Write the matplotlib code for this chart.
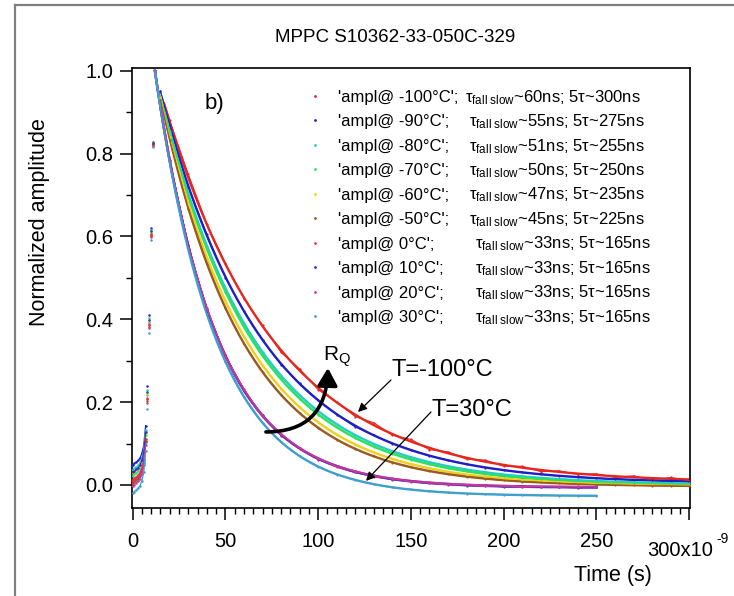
import numpy as np
import matplotlib
matplotlib.use("Agg")
import matplotlib.pyplot as plt
from matplotlib.ticker import MultipleLocator, FixedLocator, FixedFormatter
from matplotlib.patches import FancyArrowPatch
from matplotlib.path import Path

plt.rcParams['font.family'] = ['Liberation Sans', 'DejaVu Sans']
plt.rcParams['mathtext.fontset'] = 'custom'
plt.rcParams['mathtext.rm'] = 'Liberation Sans'
plt.rcParams['mathtext.it'] = 'Liberation Sans:italic'

# ---- data -------------------------------------------------------------
temps = ['-100', '-90', '-80', '-70', '-60', '-50', '0', '10', '20', '30']
tau_ns = [60, 55, 51, 50, 47, 45, 33, 33, 33, 33]
five_tau_ns = [300, 275, 255, 250, 235, 225, 165, 165, 165, 165]
colors = ['#e6261f', '#1f1fc8', '#22cfc4', '#2ee05a', '#f0d01a', '#9a5a22',
          '#e8305c', '#3a2fc0', '#cc3aa8', '#3f9fcf']

# leading edge (ns) and its normalised shape, baseline per temperature
rise_t = [0, 1, 2, 3, 4, 5, 6, 7, 8, 9, 10, 11, 12]
rise_frac = [0, 0.004, 0.008, 0.012, 0.018, 0.03, 0.05, 0.1, 0.2, 0.38, 0.6, 0.82, 1.0]
baseline = [0.008, 0.048, 0.036, 0.022, 0.028, 0.003, 0.012, 0.03, -0.003, -0.02]

# sampled tail of each pulse (ns)
decay_t = [15] + list(range(20, 301, 10))
ampl_m100 = [0.95, 0.88, 0.75, 0.63, 0.535, 0.45, 0.385, 0.32, 0.28, 0.23, 0.20, 0.165, 0.15,
             0.12, 0.11, 0.085, 0.08, 0.062, 0.06, 0.045, 0.045, 0.032, 0.034, 0.025, 0.027,
             0.018, 0.022, 0.012, 0.018, 0.01]
ampl_m90 = [0.95, 0.87, 0.72, 0.605, 0.50, 0.42, 0.35, 0.29, 0.245, 0.205, 0.17, 0.14, 0.12,
            0.10, 0.085, 0.07, 0.06, 0.05, 0.042, 0.036, 0.03, 0.026, 0.021, 0.02, 0.016,
            0.015, 0.012, 0.011, 0.009, 0.008]
ampl_m80 = [0.94, 0.855, 0.703, 0.578, 0.475, 0.39, 0.321, 0.264, 0.217, 0.178, 0.146, 0.12,
            0.099, 0.081, 0.067, 0.055, 0.045, 0.037, 0.03, 0.025, 0.021, 0.017, 0.014, 0.011,
            0.009, 0.008, 0.006, 0.005, 0.004, 0.004]
ampl_m70 = [0.94, 0.85, 0.696, 0.569, 0.466, 0.381, 0.311, 0.255, 0.208, 0.170, 0.139, 0.113,
            0.092, 0.075, 0.061, 0.050, 0.040, 0.033, 0.026, 0.021, 0.017, 0.014, 0.011, 0.008,
            0.007, 0.005, 0.004, 0.003, 0.002, 0.001]
ampl_m60 = [0.935, 0.84, 0.679, 0.548, 0.442, 0.357, 0.288, 0.232, 0.187, 0.151, 0.121, 0.097,
            0.078, 0.063, 0.050, 0.040, 0.032, 0.025, 0.020, 0.015, 0.012, 0.009, 0.007, 0.005,
            0.003, 0.002, 0.001, 0.0, -0.001, -0.001]
ampl_m50 = [0.93, 0.833, 0.666, 0.533, 0.426, 0.341, 0.273, 0.218, 0.173, 0.137, 0.109, 0.087,
            0.069, 0.054, 0.043, 0.033, 0.026, 0.020, 0.015, 0.011, 0.008, 0.006, 0.004, 0.002,
            0.001, 0.0, -0.001, -0.002, -0.002, -0.003]
ampl_0 = [0.91, 0.785, 0.575, 0.427, 0.31, 0.232, 0.165, 0.124, 0.087, 0.065, 0.043, 0.034,
          0.02, 0.016, 0.008, 0.006, 0.001, 0.001, -0.003, -0.002, -0.005, -0.004, -0.006,
          -0.005, -0.006]
ampl_10 = [0.91, 0.782, 0.58, 0.421, 0.313, 0.226, 0.168, 0.119, 0.089, 0.061, 0.046, 0.03,
           0.023, 0.013, 0.01, 0.004, 0.003, -0.002, -0.001, -0.005, -0.003, -0.006, -0.005,
           -0.007, -0.006]
ampl_20 = [0.91, 0.784, 0.577, 0.425, 0.312, 0.229, 0.167, 0.122, 0.089, 0.063, 0.045, 0.032,
           0.022, 0.015, 0.009, 0.005, 0.002, 0.0, -0.002, -0.003, -0.004, -0.004, -0.005,
           -0.005, -0.005]
ampl_30 = [0.91, 0.779, 0.569, 0.413, 0.298, 0.213, 0.150, 0.103, 0.070, 0.044, 0.025, 0.012,
           0.002, -0.006, -0.011, -0.015, -0.018, -0.021, -0.022, -0.024, -0.024, -0.025,
           -0.026, -0.026, -0.026]
tails = [ampl_m100, ampl_m90, ampl_m80, ampl_m70, ampl_m60, ampl_m50,
         ampl_0, ampl_10, ampl_20, ampl_30]

# exponential fit parameters: start/end of fit window (ns), peak time, offset
fit_start = [17, 17, 17, 17, 17, 17, 12, 12, 12, 12]
fit_end = [300, 300, 300, 300, 300, 300, 250, 250, 250, 250]
fit_offset = [0.005, 0.003, 0.0, -0.002, -0.003, -0.004, -0.006, -0.007, -0.006, -0.027]
t_peak = 12

# ---- figure -----------------------------------------------------------
W, H = 734, 596
fig = plt.figure(figsize=(W / 100, H / 100), dpi=100)
ax = fig.add_axes([131.7 / W, 1 - 507.7 / H, (690 - 131.7) / W, (507.7 - 68.3) / H])

# fits
for i in range(len(temps)):
    tf = np.linspace(fit_start[i], fit_end[i], 400)
    c = fit_offset[i]
    yf = (1 - c) * np.exp(-(tf - t_peak) / tau_ns[i]) + c
    ax.plot(tf, yf, color=colors[i], lw=1.7, zorder=2 + (i >= 8) * 0.5)

# measured traces
for i in range(len(temps)):
    ry = [baseline[i] + f * (1 - baseline[i]) for f in rise_frac]
    ax.plot(rise_t[:8], ry[:8], ls='-', lw=0.9, color=colors[i], zorder=3)
    ax.plot(rise_t, ry, ls='none', marker='o', ms=1.8, mec='none', color=colors[i], zorder=3)
    ty = tails[i]
    ax.plot(decay_t[:len(ty)], ty, ls='-', lw=0.8, marker='o', ms=1.6, mec='none',
            color=colors[i], zorder=3)

ax.set_xlim(-0.5, 300.4)
ax.set_ylim(-0.055, 1.006)

for s in ax.spines.values():
    s.set_linewidth(1.2)

ax.xaxis.set_major_locator(FixedLocator([0, 50, 100, 150, 200, 250, 300]))
ax.xaxis.set_major_formatter(FixedFormatter(['0', '50', '100', '150', '200', '250', '']))
ax.xaxis.set_minor_locator(MultipleLocator(5))
ax.yaxis.set_major_locator(MultipleLocator(0.2))
ax.yaxis.set_minor_locator(MultipleLocator(0.1))
ax.yaxis.set_major_formatter(matplotlib.ticker.FormatStrFormatter('%.1f'))
ax.tick_params(which='major', direction='out', length=8.5, width=1.1, labelsize=14.5)
ax.tick_params(which='minor', direction='out', length=4.5, width=1.0)
ax.tick_params(axis='x', which='major', pad=9)
ax.tick_params(axis='y', which='major', pad=5)

def fx(px):
    return px / W

def fy(py):
    return 1 - py / H

fig.text(fx(647), fy(550), '300x10', fontsize=14.5, ha='left', va='center')
fig.text(fx(716), fy(539), '-9', fontsize=10, ha='left', va='center')
fig.text(fx(613), fy(576), 'Time (s)', fontsize=15.5, ha='center', va='center')
fig.text(fx(40), fy(222), 'Normalized amplitude', fontsize=15.5, rotation=90,
         ha='center', va='center')
fig.text(fx(395), fy(38), 'MPPC S10362-33-050C-329', fontsize=13.5, ha='center', va='center')
fig.text(fx(205), fy(104), 'b)', fontsize=16, ha='left', va='center')

# legend rows
tau_x = [465, 469, 469, 469, 469, 469, 475, 475, 475, 475]
for i in range(len(temps)):
    yc = 96 + i * 24.45
    fig.lines.append(plt.Line2D([fx(315)], [fy(yc)], ls='none', marker='o', ms=2,
                                mec='none', color=colors[i], transform=fig.transFigure))
    fig.text(fx(338), fy(yc + 6), "'ampl@ %s°C';" % temps[i], fontsize=12,
             ha='left', va='baseline')
    fig.text(fx(tau_x[i]), fy(yc + 6),
             r"τ$_{\mathrm{fall\ slow}}$~%dns; 5τ~%dns" % (tau_ns[i], five_tau_ns[i]),
             fontsize=12, ha='left', va='baseline')

# annotations
def to_data(px, py):
    return ((px - 132.7) / 1.855, (485 - py) / 414.3)

ax.text(*to_data(392, 370), 'T=-100°C', fontsize=17, ha='left', va='center')
ax.text(*to_data(432, 410), 'T=30°C', fontsize=17, ha='left', va='center')
ax.text(*to_data(323, 357), r'R$_\mathrm{Q}$', fontsize=15, ha='left', va='center')

ax.annotate('', xy=to_data(358, 412), xytext=to_data(391, 380),
            arrowprops=dict(arrowstyle='-|>', lw=0.9, color='black', mutation_scale=13,
                            shrinkA=0, shrinkB=0))
ax.annotate('', xy=to_data(366, 481), xytext=to_data(431, 412),
            arrowprops=dict(arrowstyle='-|>', lw=0.9, color='black', mutation_scale=13,
                            shrinkA=0, shrinkB=0))

p0 = to_data(266, 432)
p1 = to_data(326, 432)
p2 = to_data(328, 368)
curve = Path([p0, p1, p2], [Path.MOVETO, Path.CURVE3, Path.CURVE3])
ax.add_patch(FancyArrowPatch(path=curve, arrowstyle='-|>,head_length=0.7,head_width=0.4',
                             mutation_scale=15, lw=2.6, color='black', zorder=5))

# outer frame
fig.lines.append(plt.Line2D([fx(15), fx(15)], [fy(596), fy(5)], color='#808080', lw=1.6,
                            transform=fig.transFigure))
fig.lines.append(plt.Line2D([fx(15), fx(734)], [fy(5), fy(5)], color='#808080', lw=1.6,
                            transform=fig.transFigure))

fig.savefig('out.png', dpi=100)
